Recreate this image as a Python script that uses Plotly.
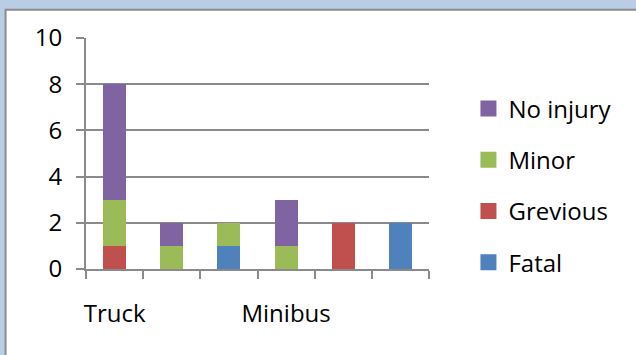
import plotly.graph_objects as go

# Six vehicle slots; only two carry a visible label on the axis
slots = ["v1", "v2", "v3", "v4", "v5", "v6"]
slot_labels = ["Truck", "", "", "Minibus", "", ""]

# Casualty counts per slot (stacked bottom to top: Fatal, Grevious, Minor, No injury)
fatal = [0, 0, 1, 0, 0, 2]
grevious = [1, 0, 0, 0, 2, 0]
minor = [2, 1, 1, 1, 0, 0]
no_injury = [5, 1, 0, 2, 0, 0]

series = [
    ("Fatal", fatal, "#4F81BD"),
    ("Grevious", grevious, "#C0504D"),
    ("Minor", minor, "#9BBB59"),
    ("No injury", no_injury, "#8064A2"),
]

AXIS_GREY = "#8a8a8a"
FONT = dict(family="Open Sans, Liberation Sans, sans-serif", size=24, color="#000000")

fig = go.Figure()
for name, vals, color in series:
    fig.add_trace(go.Bar(
        x=slots, y=vals, name=name,
        marker=dict(color=color, line=dict(width=0)),
        showlegend=False, hoverinfo="skip",
    ))

# Legend entries with larger square swatches, top of the stack listed first
for i, (name, vals, color) in enumerate(reversed(series)):
    fig.add_trace(go.Scatter(
        x=[None], y=[None], mode="markers", name=name,
        marker=dict(symbol="square", size=16, color=color),
        legendgroup="g%d" % i, showlegend=True,
    ))

fig.update_layout(
    width=636, height=355,
    margin=dict(l=86, r=207, t=38, b=86, autoexpand=False),
    paper_bgcolor="#B9CDE5",
    plot_bgcolor="rgba(0,0,0,0)",
    barmode="stack",
    bargap=0.6,
    font=FONT,
    showlegend=True,
    legend=dict(
        x=1.115, xanchor="left", y=0.79, yanchor="top",
        traceorder="grouped",
        tracegroupgap=17,
        font=FONT,
        bgcolor="rgba(0,0,0,0)",
        itemclick=False, itemdoubleclick=False,
    ),
    shapes=[dict(
        type="rect", xref="paper", yref="paper", layer="below",
        x0=-0.2345, x1=2.0, y0=-1.0, y1=1.122,
        fillcolor="#FFFFFF", line=dict(color="#8c8c8c", width=2),
    )],
)

fig.update_xaxes(
    type="category",
    categoryorder="array", categoryarray=slots,
    tickmode="array", tickvals=slots, ticktext=slot_labels,
    range=[-0.5, 5.5],
    tickson="boundaries",
    tickangle=0, automargin=False,
    ticks="outside", ticklen=8, tickwidth=2, tickcolor=AXIS_GREY,
    showline=True, linecolor=AXIS_GREY, linewidth=2,
    showgrid=False, zeroline=False,
    ticklabelstandoff=22,
    tickfont=FONT,
    fixedrange=True,
)
fig.update_yaxes(
    range=[0, 10], dtick=2, tick0=0,
    automargin=False,
    ticks="outside", ticklen=8, tickwidth=2, tickcolor=AXIS_GREY,
    showline=True, linecolor=AXIS_GREY, linewidth=2,
    showgrid=True, gridcolor=AXIS_GREY, gridwidth=2,
    zeroline=False,
    ticklabelstandoff=9,
    tickfont=FONT,
    fixedrange=True,
)

fig.write_html("out.html", config={"displayModeBar": False})
